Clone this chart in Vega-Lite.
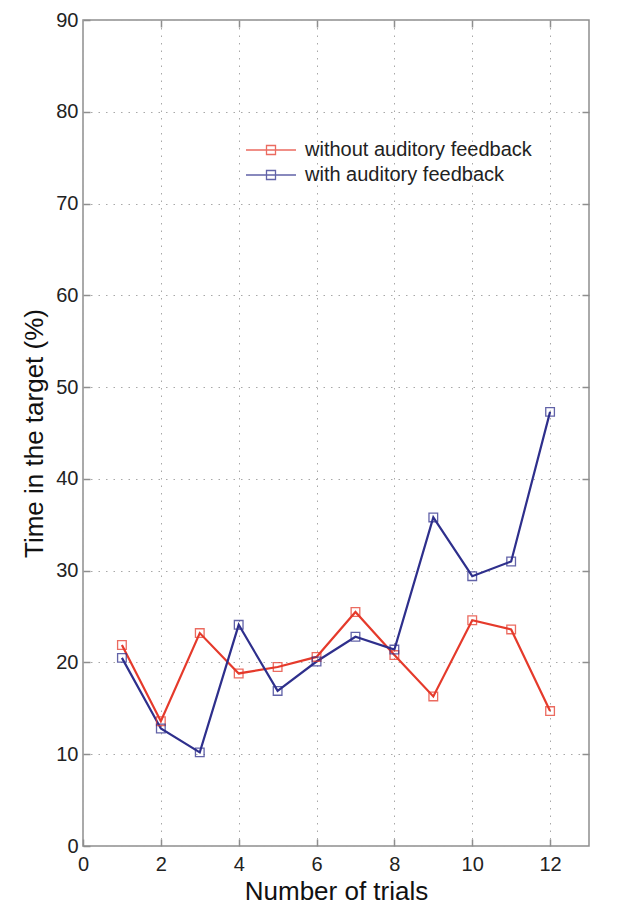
{
  "$schema": "https://vega.github.io/schema/vega-lite/v6.json",
  "width": 506,
  "height": 826,
  "autosize": {"type": "none"},
  "padding": {"left": 83, "top": 20, "right": 48, "bottom": 58},
  "background": "white",
  "config": {
    "font": "Liberation Sans",
    "view": {"stroke": "#8e8e8e", "strokeWidth": 1.5},
    "axis": {
      "labelFont": "Liberation Sans",
      "titleFont": "Liberation Sans",
      "labelFontSize": 20,
      "titleFontSize": 26,
      "titleFontWeight": "normal",
      "labelColor": "#222",
      "titleColor": "#111",
      "domain": false,
      "tickColor": "#8e8e8e",
      "tickWidth": 1.5,
      "tickSize": -7,
      "gridColor": "#a8a8a8",
      "gridDash": [1.5, 6],
      "gridWidth": 1,
      "gridOpacity": 1
    }
  },
  "data": {
    "values": [
      {"trial": 1, "value": 21.9, "group": "without auditory feedback"},
      {"trial": 2, "value": 13.6, "group": "without auditory feedback"},
      {"trial": 3, "value": 23.2, "group": "without auditory feedback"},
      {"trial": 4, "value": 18.8, "group": "without auditory feedback"},
      {"trial": 5, "value": 19.5, "group": "without auditory feedback"},
      {"trial": 6, "value": 20.6, "group": "without auditory feedback"},
      {"trial": 7, "value": 25.5, "group": "without auditory feedback"},
      {"trial": 8, "value": 20.8, "group": "without auditory feedback"},
      {"trial": 9, "value": 16.3, "group": "without auditory feedback"},
      {"trial": 10, "value": 24.6, "group": "without auditory feedback"},
      {"trial": 11, "value": 23.6, "group": "without auditory feedback"},
      {"trial": 12, "value": 14.7, "group": "without auditory feedback"},
      {"trial": 1, "value": 20.5, "group": "with auditory feedback"},
      {"trial": 2, "value": 12.8, "group": "with auditory feedback"},
      {"trial": 3, "value": 10.2, "group": "with auditory feedback"},
      {"trial": 4, "value": 24.1, "group": "with auditory feedback"},
      {"trial": 5, "value": 16.9, "group": "with auditory feedback"},
      {"trial": 6, "value": 20.1, "group": "with auditory feedback"},
      {"trial": 7, "value": 22.8, "group": "with auditory feedback"},
      {"trial": 8, "value": 21.4, "group": "with auditory feedback"},
      {"trial": 9, "value": 35.8, "group": "with auditory feedback"},
      {"trial": 10, "value": 29.4, "group": "with auditory feedback"},
      {"trial": 11, "value": 31.0, "group": "with auditory feedback"},
      {"trial": 12, "value": 47.3, "group": "with auditory feedback"}
    ]
  },
  "layer": [
    {
      "mark": {
        "type": "line",
        "strokeWidth": 2.2,
        "point": {"shape": "square", "filled": false, "size": 75, "strokeWidth": 1.3, "opacity": 0.75}
      },
      "encoding": {
        "x": {
          "field": "trial", "type": "quantitative",
          "scale": {"domain": [0, 13], "nice": false, "zero": false},
          "axis": {"orient": "bottom", "values": [0, 2, 4, 6, 8, 10, 12], "title": "Number of trials", "labelPadding": 15, "titlePadding": 4, "grid": true, "labelFlush": false}
        },
        "y": {
          "field": "value", "type": "quantitative",
          "scale": {"domain": [0, 90], "nice": false},
          "axis": {"orient": "left", "values": [0, 10, 20, 30, 40, 50, 60, 70, 80, 90], "title": "Time in the target (%)", "labelPadding": 12, "titlePadding": 8, "grid": true}
        },
        "color": {
          "field": "group", "type": "nominal",
          "scale": {"domain": ["without auditory feedback", "with auditory feedback"], "range": ["#e53a2b", "#2e2f8c"]},
          "legend": {
            "title": null,
            "orient": "none",
            "legendX": 177,
            "legendY": 119,
            "padding": 0,
            "labelFont": "Liberation Sans",
            "labelFontSize": 20,
            "labelLimit": 400,
            "labelColor": "#222",
            "rowPadding": 4,
            "labelOffset": 23,
            "symbolType": "M-2.5,0H2.5M-0.45,-0.45H0.45V0.45H-0.45Z",
            "symbolSize": 400,
            "symbolStrokeWidth": 1.3,
            "symbolFillColor": "transparent"
          }
        }
      }
    },
    {
      "mark": {"type": "line", "opacity": 0},
      "encoding": {
        "x": {
          "field": "trial", "type": "quantitative",
          "axis": {"orient": "top", "values": [2, 4, 6, 8, 10, 12], "labels": false, "title": null, "grid": false}
        },
        "y": {
          "field": "value", "type": "quantitative",
          "axis": {"orient": "right", "values": [10, 20, 30, 40, 50, 60, 70, 80], "labels": false, "title": null, "grid": false}
        },
        "detail": {"field": "group"}
      }
    }
  ],
  "resolve": {"axis": {"x": "independent", "y": "independent"}}
}
